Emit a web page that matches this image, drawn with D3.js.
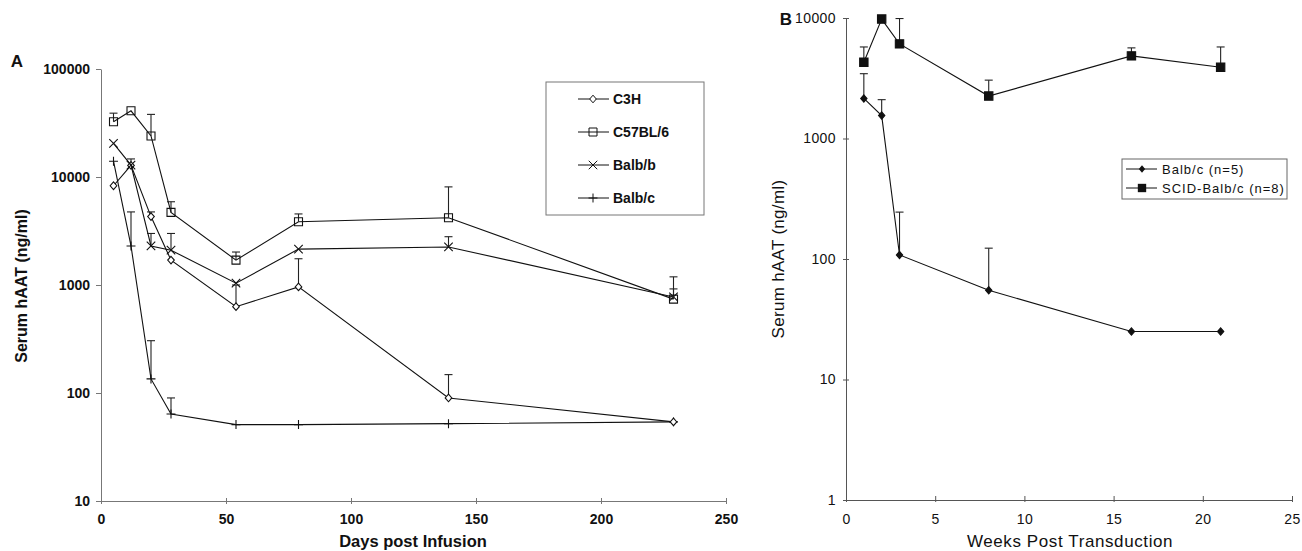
<!DOCTYPE html>
<html>
<head>
<meta charset="utf-8">
<script src="https://cdn.jsdelivr.net/npm/d3@7"></script>
<style>
  body { margin: 0; background: #fff; }
  svg { display: block; }
  text { font-family: "Liberation Sans", Arial, sans-serif; fill: #111; }
</style>
</head>
<body>
<svg id="chart" width="1302" height="551"></svg>
<script>
// panel A : days post infusion
const daysA = [5, 12, 20, 28, 54, 79, 139, 229];
const c3h = [8300, 12800, 4300, 1700, 630, 960, 90, 54];
const c3hErr = [null, 14700, 4750, null, 1000, 1750, 148, null];
const c57 = [32500, 41000, 24000, 4700, 1700, 3850, 4200, 740];
const c57Err = [39000, null, 38000, 5900, 2020, 4550, 8100, 1190];
const balbB = [20500, 12900, 2300, 2100, 1040, 2150, 2250, 775];
const balbBErr = [null, null, 3000, 3000, null, null, 2800, 920];
const balbC = [14000, 2300, 135, 64, 51, 51, 52, 54];
const balbCErr = [null, 4750, 305, 90, null, null, null, null];
const namesA = ["C3H", "C57BL/6", "Balb/b", "Balb/c"];
const ticksAx = [0, 50, 100, 150, 200, 250];
const ticksAy = [10, 100, 1000, 10000, 100000];

// panel B : weeks post transduction
const weeksB = [1, 2, 3, 8, 16, 21];
const scid = [4300, 9800, 6100, 2250, 4850, 3900];
const scidErr = [5750, null, 9900, 3050, 5650, 5750];
const balbcB = [2150, 1550, 108, 55, 25, 25];
const balbcBErr = [3450, 2100, 245, 123, null, null];
const namesB = ["Balb/c (n=5)", "SCID-Balb/c (n=8)"];
const ticksBx = [0, 5, 10, 15, 20, 25];
const ticksBy = [1, 10, 100, 1000, 10000];

const svg = d3.select("#chart");

// marker shapes
const diamond = { draw(ctx, s) { const r = Math.sqrt(s) / 2; ctx.moveTo(0, -r * 1.15); ctx.lineTo(r, 0); ctx.lineTo(0, r * 1.15); ctx.lineTo(-r, 0); ctx.closePath(); } };
const square = { draw(ctx, s) { const r = Math.sqrt(s) / 2; ctx.rect(-r, -r, 2 * r, 2 * r); } };
const times = { draw(ctx, s) { const r = Math.sqrt(s) / 2; ctx.moveTo(-r, -r); ctx.lineTo(r, r); ctx.moveTo(r, -r); ctx.lineTo(-r, r); } };
const plus = { draw(ctx, s) { const r = Math.sqrt(s) / 2; ctx.moveTo(-r, 0); ctx.lineTo(r, 0); ctx.moveTo(0, -r); ctx.lineTo(0, r); } };

const drawSeries = (g, x, y, xs, ys, errs, sym, fill) => {
  const pts = xs.map((d, i) => ({ x: d, y: ys[i], e: errs[i] }));
  g.append("path")
    .attr("d", d3.line().x(d => x(d.x)).y(d => y(d.y))(pts))
    .attr("fill", "none").attr("stroke", "#111").attr("stroke-width", 1.1);
  const eb = g.selectAll(null).data(pts.filter(d => d.e)).enter().append("g")
    .attr("stroke", "#222").attr("stroke-width", 1.1);
  eb.append("line").attr("x1", d => x(d.x)).attr("x2", d => x(d.x))
    .attr("y1", d => y(d.y)).attr("y2", d => y(d.e));
  eb.append("line").attr("x1", d => x(d.x) - 4).attr("x2", d => x(d.x) + 4)
    .attr("y1", d => y(d.e)).attr("y2", d => y(d.e));
  g.selectAll(null).data(pts).enter().append("path")
    .attr("transform", d => `translate(${x(d.x)},${y(d.y)})`)
    .attr("d", d3.symbol().type(sym[0]).size(sym[1]))
    .attr("fill", fill).attr("stroke", "#111").attr("stroke-width", 1.1);
};

// ---------- panel A ----------
const xA = d3.scaleLinear().domain([0, 250]).range([101, 726]);
const yA = d3.scaleLog().domain([10, 100000]).range([501, 69]);

const axA = svg.append("g").attr("transform", "translate(0,501)")
  .call(d3.axisBottom(xA).tickValues(ticksAx).tickSize(3).tickPadding(10).tickSizeOuter(0));
axA.selectAll(".tick line").attr("y1", -3).attr("y2", 3);
const ayA = svg.append("g").attr("transform", "translate(101,0)")
  .call(d3.axisLeft(yA).tickValues(ticksAy).tickFormat(d3.format("d")).tickSize(5).tickPadding(6).tickSizeOuter(0));
[axA, ayA].forEach(a => {
  a.selectAll("path, line").attr("stroke", "#777");
  a.selectAll("text").attr("font-size", 14).attr("font-weight", "bold")
    .attr("font-family", "Liberation Sans, Arial, sans-serif").attr("fill", "#111");
});

svg.append("text").attr("x", 17).attr("y", 67).attr("font-size", 17).attr("font-weight", "bold").attr("text-anchor", "middle").text("A");
svg.append("text").attr("transform", "translate(27,286) rotate(-90)").attr("text-anchor", "middle")
  .attr("font-size", 16).attr("font-weight", "bold").text("Serum hAAT (ng/ml)");
svg.append("text").attr("x", 413).attr("y", 547).attr("text-anchor", "middle")
  .attr("font-size", 16.5).attr("font-weight", "bold").text("Days post Infusion");

const symA = [[diamond, 44], [square, 64], [times, 72], [plus, 80]];
const gA = svg.append("g");
drawSeries(gA, xA, yA, daysA, balbC, balbCErr, symA[3], "none");
drawSeries(gA, xA, yA, daysA, c3h, c3hErr, symA[0], "#fff");
drawSeries(gA, xA, yA, daysA, balbB, balbBErr, symA[2], "none");
drawSeries(gA, xA, yA, daysA, c57, c57Err, symA[1], "none");

// legend A
const legA = svg.append("g");
legA.append("rect").attr("x", 546).attr("y", 82).attr("width", 158).attr("height", 133)
  .attr("fill", "#fff").attr("stroke", "#777");
namesA.forEach((n, i) => {
  const yy = 99 + i * 33;
  legA.append("line").attr("x1", 578).attr("x2", 609).attr("y1", yy).attr("y2", yy).attr("stroke", "#111");
  legA.append("path").attr("transform", `translate(593,${yy})`)
    .attr("d", d3.symbol().type(symA[i][0]).size(symA[i][1]))
    .attr("fill", i === 0 ? "#fff" : "none").attr("stroke", "#111");
  legA.append("text").attr("x", 613).attr("y", yy).attr("dy", "0.36em")
    .attr("font-size", 14).attr("font-weight", "bold").text(n);
});

// ---------- panel B ----------
const xB = d3.scaleLinear().domain([0, 25]).range([846, 1292]);
const yB = d3.scaleLog().domain([1, 10000]).range([500, 18]);

const axB = svg.append("g").attr("transform", "translate(0,500)")
  .call(d3.axisBottom(xB).tickValues(ticksBx).tickSize(3).tickPadding(11).tickSizeOuter(0));
axB.selectAll(".tick line").attr("y1", -4).attr("y2", 2);
const ayB = svg.append("g").attr("transform", "translate(846,0)")
  .call(d3.axisLeft(yB).tickValues(ticksBy).tickFormat(d3.format("d")).tickSize(3).tickPadding(7).tickSizeOuter(0));
ayB.selectAll(".tick line").attr("x1", 3);
[axB, ayB].forEach(a => {
  a.selectAll("path, line").attr("stroke", "#555");
  a.selectAll("text").attr("font-size", 14).attr("letter-spacing", 0.4)
    .attr("font-family", "Liberation Sans, Arial, sans-serif").attr("fill", "#333");
});

svg.append("text").attr("x", 786).attr("y", 25).attr("font-size", 17).attr("font-weight", "bold").attr("text-anchor", "middle").text("B");
svg.append("text").attr("transform", "translate(784,259) rotate(-90)").attr("text-anchor", "middle")
  .attr("font-size", 17).attr("letter-spacing", 0.3).text("Serum hAAT (ng/ml)");
svg.append("text").attr("x", 1070).attr("y", 547).attr("text-anchor", "middle")
  .attr("font-size", 17).attr("letter-spacing", 0.6).text("Weeks Post Transduction");

const symB = [[diamond, 40], [square, 70]];
const gB = svg.append("g");
drawSeries(gB, xB, yB, weeksB, balbcB, balbcBErr, symB[0], "#111");
drawSeries(gB, xB, yB, weeksB, scid, scidErr, symB[1], "#111");

// legend B
const legB = svg.append("g");
legB.append("rect").attr("x", 1122).attr("y", 159).attr("width", 165).attr("height", 40)
  .attr("fill", "#fff").attr("stroke", "#666");
namesB.forEach((n, i) => {
  const yy = 169 + i * 19;
  legB.append("line").attr("x1", 1126).attr("x2", 1157).attr("y1", yy).attr("y2", yy).attr("stroke", "#111");
  legB.append("path").attr("transform", `translate(1142,${yy})`)
    .attr("d", d3.symbol().type(symB[i][0]).size(symB[i][1])).attr("fill", "#111");
  legB.append("text").attr("x", 1162).attr("y", yy).attr("dy", "0.36em")
    .attr("font-size", 13).attr("letter-spacing", 1).attr("fill", "#222").text(n);
});
</script>
</body>
</html>
